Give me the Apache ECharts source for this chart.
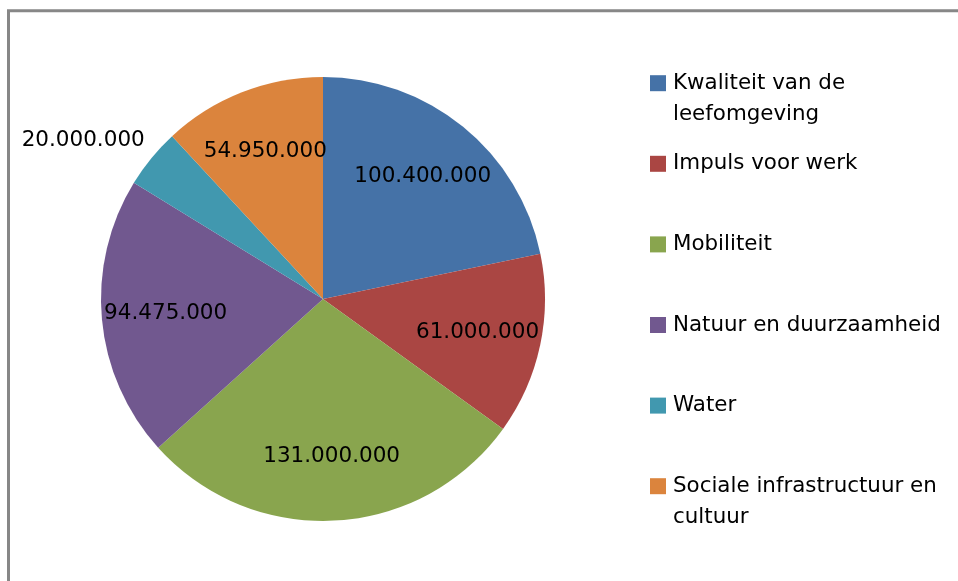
<!DOCTYPE html>
<html>
<head>
<meta charset="utf-8">
<script src="https://cdn.jsdelivr.net/npm/echarts@6/dist/echarts.min.js"></script>
<style>
html,body{margin:0;padding:0;background:#fff;}
#chart{width:958px;height:581px;}
</style>
</head>
<body>
<div id="chart"></div>
<script>
var categories = [
  'Kwaliteit van de\nleefomgeving',
  'Impuls voor werk',
  'Mobiliteit',
  'Natuur en duurzaamheid',
  'Water',
  'Sociale infrastructuur en\ncultuur'
];
var values = [100400000, 61000000, 131000000, 94475000, 20000000, 54950000];
var colors = ['#4572A7', '#AA4643', '#89A54E', '#71588F', '#4198AF', '#DB843D'];

function fmt(v) {
  return String(v).replace(/\B(?=(\d{3})+(?!\d))/g, '.');
}

var mainData = categories.map(function (c, i) {
  return { name: c, value: values[i], itemStyle: { color: colors[i] } };
});
var labelData = categories.map(function (c, i) {
  var d = { name: c, value: values[i] };
  if (c === 'Water') {
    d.label = { position: 'outside' };
  }
  return d;
});

var chart = echarts.init(document.getElementById('chart'));
chart.setOption({
  animation: false,
  backgroundColor: '#ffffff',
  graphic: [{
    type: 'rect',
    z: -10,
    shape: { x: 8.5, y: 10.8, width: 2000, height: 2000 },
    style: { fill: 'none', stroke: '#878787', lineWidth: 3 }
  }],
  legend: {
    orient: 'vertical',
    left: 650,
    top: 41.7,
    padding: 0,
    itemWidth: 16,
    itemHeight: 16,
    itemGap: -2.4,
    icon: 'rect',
    selectedMode: false,
    data: categories,
    formatter: function (name) {
      var lines = name.split('\n');
      if (lines.length === 1) {
        return '{s| }\n{t|' + lines[0] + '}\n{s| }';
      }
      return '{s| }\n{t|' + lines[0] + '}\n{t|' + lines[1] + '}';
    },
    textStyle: {
      rich: {
        s: { fontSize: 21.4, lineHeight: 31, fontFamily: 'DejaVu Sans', color: '#000', padding: [0, 0, 0, 2] },
        t: { fontSize: 21.4, lineHeight: 31, fontFamily: 'DejaVu Sans', color: '#000', padding: [0, 0, 0, 2] }
      }
    }
  },
  series: [{
    type: 'pie',
    center: [323, 299],
    radius: 222,
    startAngle: 90,
    clockwise: true,
    avoidLabelOverlap: false,
    label: { show: false },
    labelLine: { show: false },
    emphasis: { disabled: true },
    data: mainData
  }, {
    type: 'pie',
    center: [323, 299],
    radius: [88, 222],
    startAngle: 90,
    clockwise: true,
    silent: true,
    avoidLabelOverlap: false,
    itemStyle: { color: 'rgba(0,0,0,0)' },
    emphasis: { disabled: true },
    label: {
      show: true,
      position: 'inside',
      fontFamily: 'DejaVu Sans',
      fontSize: 21.5,
      color: '#000',
      formatter: function (p) { return fmt(p.value); }
    },
    labelLine: { show: false, length: 28, length2: -20 },
    data: labelData
  }]
});
</script>
</body>
</html>
